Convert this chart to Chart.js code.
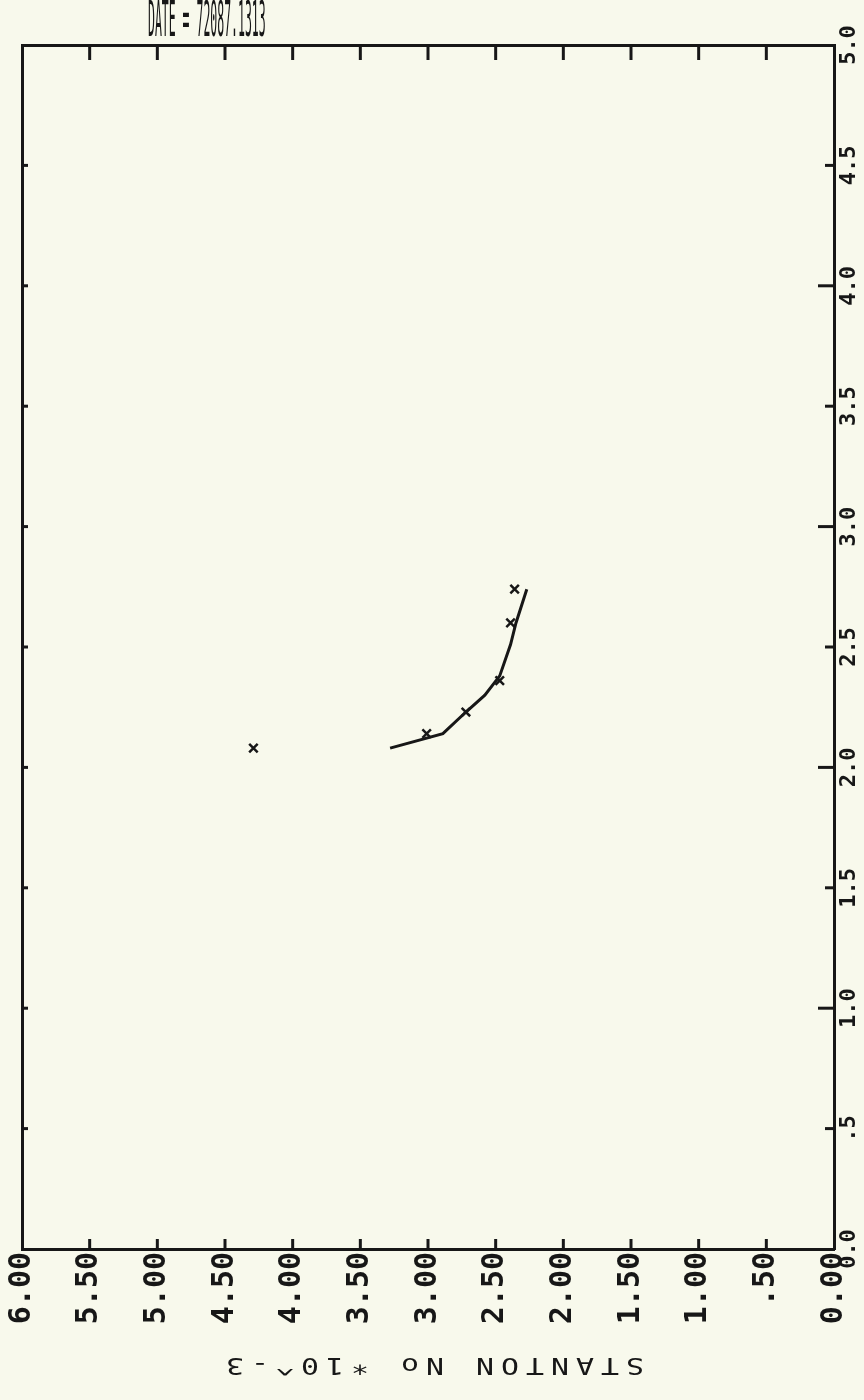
<!DOCTYPE html>
<html lang="en">
<head>
    <meta charset="UTF-8">
    <title>Stanton Number</title>
    <script src="https://cdn.jsdelivr.net/npm/chart.js@4.4.0/dist/chart.umd.min.js"></script>
    <style>
        html, body {
            margin: 0;
            padding: 0;
            background: #f8f9ec;
        }
        #wrap {
            width: 864px;
            height: 1400px;
        }
    </style>
</head>
<body>
    <div id="wrap"><canvas id="stantonChart" width="864" height="1400"></canvas></div>

    <script>
        // measured points (x marks): Stanton no *10^-3 against distance
        const stantonMeasured = [2.36, 2.39, 2.47, 2.72, 3.01, 4.29];
        const distanceMeasured = [2.74, 2.60, 2.36, 2.23, 2.14, 2.08];

        // fitted curve
        const stantonCurve = [3.28, 2.89, 2.72, 2.58, 2.47, 2.39, 2.35, 2.27];
        const distanceCurve = [2.08, 2.14, 2.23, 2.30, 2.38, 2.51, 2.60, 2.74];

        // tick values / labels
        const stantonTicks = [0, 0.5, 1, 1.5, 2, 2.5, 3, 3.5, 4, 4.5, 5, 5.5, 6];
        const stantonTickLabels = ['0.00', '.50', '1.00', '1.50', '2.00', '2.50', '3.00', '3.50', '4.00', '4.50', '5.00', '5.50', '6.00'];
        const distanceTicks = [0, 0.5, 1, 1.5, 2, 2.5, 3, 3.5, 4, 4.5, 5];
        const distanceTickLabels = ['0.0', '.5', '1.0', '1.5', '2.0', '2.5', '3.0', '3.5', '4.0', '4.5', '5.0'];

        const axisTitle = 'STANTON No *10^-3';
        const runTitle = 'DATE = 72087.1313';

        const ink = '#171717';
        const paper = '#f8f9ec';

        // paper colour + the plotter text (axis title is upside down)
        const plotterText = {
            id: 'plotterText',
            beforeDraw(chart) {
                const ctx = chart.ctx;
                ctx.save();
                ctx.fillStyle = paper;
                ctx.fillRect(0, 0, chart.width, chart.height);
                ctx.restore();
            },
            afterDraw(chart) {
                const { ctx, chartArea: a } = chart;
                ctx.save();
                ctx.fillStyle = ink;
                ctx.textAlign = 'center';
                ctx.textBaseline = 'middle';

                // STANTON No *10^-3, rotated 180deg
                ctx.font = '23px "DejaVu Sans Mono"';
                const pitch = 25;
                const chars = [...axisTitle];
                const start = -(chars.length - 1) * pitch / 2;
                ctx.save();
                ctx.translate((a.left + a.right) / 2 + 7, a.bottom + 115);
                ctx.rotate(Math.PI);
                chars.forEach((c, i) => {
                    ctx.save();
                    ctx.translate(start + i * pitch, 0);
                    ctx.scale(1.3, 1);
                    ctx.fillText(c, 0, 0);
                    ctx.restore();
                });
                ctx.restore();

                // run title, cut by the top edge
                ctx.save();
                ctx.font = '50px "DejaVu Sans Mono"';
                ctx.textAlign = 'left';
                ctx.textBaseline = 'alphabetic';
                ctx.translate(148, 36);
                ctx.scale(0.23, 1);
                ctx.fillText(runTitle, 0, 0);
                ctx.restore();

                ctx.restore();
            }
        };

        // tick marks point into the frame on all four sides
        const innerTicks = {
            id: 'innerTicks',
            afterDraw(chart) {
                const { ctx, chartArea: a } = chart;
                const xs = chart.scales.x;
                const ys = chart.scales.y;
                const line = (x1, y1, x2, y2) => {
                    ctx.beginPath();
                    ctx.moveTo(x1, y1);
                    ctx.lineTo(x2, y2);
                    ctx.stroke();
                };
                ctx.save();
                ctx.strokeStyle = ink;
                ctx.lineWidth = 3;
                xs.ticks.forEach(t => {
                    if (t.value <= xs.min || t.value >= xs.max) return;
                    const px = xs.getPixelForValue(t.value);
                    line(px, a.bottom, px, a.bottom - 10);
                    line(px, a.top, px, a.top + 15);
                });
                ys.ticks.forEach(t => {
                    if (t.value <= ys.min || t.value >= ys.max) return;
                    const py = ys.getPixelForValue(t.value);
                    const major = Number.isInteger(t.value);
                    line(a.right, py, a.right - (major ? 16 : 9), py);
                    line(a.left, py, a.left + 6, py);
                });
                ctx.restore();
            }
        };

        const bottomFont = { family: 'DejaVu Sans Mono', size: 30, weight: 'bold' };
        const rightFont = { family: 'DejaVu Sans Mono', size: 22, weight: 'bold' };

        new Chart(document.getElementById('stantonChart'), {
            type: 'scatter',
            data: {
                datasets: [
                    {
                        label: 'fit',
                        data: stantonCurve.map((s, i) => ({ x: s, y: distanceCurve[i] })),
                        showLine: true,
                        tension: 0,
                        pointRadius: 0,
                        borderColor: ink,
                        borderWidth: 3
                    },
                    {
                        label: 'measured',
                        data: stantonMeasured.map((s, i) => ({ x: s, y: distanceMeasured[i] })),
                        showLine: false,
                        pointStyle: 'crossRot',
                        pointRadius: 6,
                        borderColor: ink,
                        backgroundColor: ink,
                        borderWidth: 2.5
                    }
                ]
            },
            options: {
                responsive: false,
                animation: false,
                devicePixelRatio: 1,
                layout: { padding: { left: 22, top: 45, right: 0, bottom: 0 } },
                plugins: {
                    legend: { display: false },
                    tooltip: { enabled: false }
                },
                scales: {
                    x: {
                        type: 'linear',
                        position: 'bottom',
                        reverse: true,
                        min: 0,
                        max: 6,
                        afterBuildTicks: s => { s.ticks = stantonTicks.map(v => ({ value: v })); },
                        afterFit: s => { s.height = 151; },
                        grid: { display: true, drawOnChartArea: false, drawTicks: false },
                        border: { display: true, color: ink, width: 3 },
                        ticks: {
                            autoSkip: false,
                            minRotation: 90,
                            maxRotation: 90,
                            padding: 3,
                            color: ink,
                            font: bottomFont,
                            callback: v => stantonTickLabels[stantonTicks.indexOf(v)]
                        }
                    },
                    y: {
                        type: 'linear',
                        position: 'right',
                        min: 0,
                        max: 5,
                        afterBuildTicks: s => { s.ticks = distanceTicks.map(v => ({ value: v })); },
                        afterFit: s => { s.width = 30; },
                        grid: { display: true, drawOnChartArea: false, drawTicks: false },
                        border: { display: true, color: ink, width: 3 },
                        ticks: {
                            autoSkip: false,
                            minRotation: 90,
                            maxRotation: 90,
                            crossAlign: 'center',
                            padding: -5,
                            color: ink,
                            font: rightFont,
                            callback: v => distanceTickLabels[distanceTicks.indexOf(v)]
                        }
                    },
                    xTop: {
                        type: 'linear',
                        axis: 'x',
                        position: 'top',
                        reverse: true,
                        min: 0,
                        max: 6,
                        afterFit: s => { s.height = 0; },
                        grid: { display: true, drawOnChartArea: false, drawTicks: false },
                        border: { display: true, color: ink, width: 3 },
                        ticks: { display: false }
                    },
                    yLeft: {
                        type: 'linear',
                        axis: 'y',
                        position: 'left',
                        min: 0,
                        max: 5,
                        afterFit: s => { s.width = 0; },
                        grid: { display: true, drawOnChartArea: false, drawTicks: false },
                        border: { display: true, color: ink, width: 3 },
                        ticks: { display: false }
                    }
                }
            },
            plugins: [plotterText, innerTicks]
        });
    </script>
</body>
</html>
